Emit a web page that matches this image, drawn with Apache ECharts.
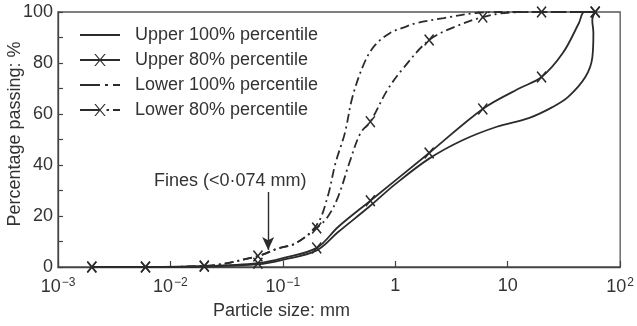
<!DOCTYPE html>
<html>
<head>
<meta charset="utf-8">
<script src="https://cdn.jsdelivr.net/npm/echarts@6/dist/echarts.min.js"></script>
<style>
  html, body { margin: 0; padding: 0; background: #fff; }
  #chart { width: 637px; height: 326px; }
</style>
</head>
<body>
<div id="chart"></div>
<script>
// Sieve sizes (mm) at which the 80% percentile envelopes are marked
const sieveSizes = [0.002, 0.006, 0.02, 0.06, 0.2, 0.6, 2, 6, 20, 60];

// Grading envelopes: [particle size in mm, percentage passing]
const upper100 = [
  [0.002, 0], [0.006, 0], [0.02, 0.2], [0.06, 1], [0.1, 2.8], [0.2, 6.5],
  [0.31, 13.7], [0.6, 24], [1, 32.5], [2, 42.5], [4, 49.8], [8, 55],
  [15.6, 58.5], [25, 62.7], [34.5, 66.7], [49, 74.5], [56.5, 82],
  [57.8, 91.8], [56.5, 96.9], [60, 100]
];
const upper80 = [
  [0.002, 0], [0.006, 0], [0.02, 0.3], [0.06, 1.5], [0.1, 3.5], [0.2, 7.5],
  [0.31, 15.7], [0.6, 26], [2, 44.7], [6, 62], [12.6, 70], [20, 74.5],
  [31, 84], [43, 95.7], [48, 100], [60, 100]
];
const lower100 = [
  [0.002, 0], [0.006, 0], [0.02, 0.4], [0.06, 4.3], [0.091, 7.3], [0.13, 9.3],
  [0.2, 16.5], [0.25, 27.5], [0.294, 40.8], [0.356, 52.5], [0.416, 66.7],
  [0.53, 80], [0.66, 87], [0.9, 91.8], [1.2, 94], [1.55, 95.7], [2.7, 97.6],
  [5.2, 99.6], [10, 100], [60, 100]
];
const lower80 = [
  [0.002, 0], [0.006, 0], [0.02, 0.4], [0.06, 4.3], [0.091, 7.3], [0.13, 9.3],
  [0.2, 15.3], [0.25, 19.6], [0.31, 27.5], [0.39, 40.8], [0.49, 52.5],
  [0.6, 57], [0.85, 69.4], [1.2, 78.4], [2, 89], [3.3, 94], [6, 98],
  [10, 99.7], [20, 100], [60, 100]
];

// Axis tick labels
const xTickExponents = [-3, -2, -1, 0, 1, 2];
const xTickTexts = ['10{s|\u22123}', '10{s|\u22122}', '10{s|\u22121}', '1', '10', '10{s|2}'];
const yTicks = [0, 20, 40, 60, 80, 100];

// Fines limit annotation
const finesSize = 0.074;
const finesArrowFrom = 29.4;
const finesArrowTo = 6.7;
const finesText = 'Fines (<0\u00b7074 mm)';

const ink = '#2b2b2b';
const textColor = '#333';
const font = 'Liberation Sans, Arial, Helvetica, sans-serif';
const crossPath = 'path://M0,1L1,0L5,4L9,0L10,1L6,5L10,9L9,10L5,6L1,10L0,9L4,5Z';
const dashDot = [9, 4, 2, 4];

// Legend keys drawn in a 40 x 14 box (tiny corner triangles fix the box extent)
const keyBox = 'M0,0L0.01,0L0,0.01Z M40,14L39.99,14L40,13.99Z';
const keyCross = 'M14.3,1L15.7,1L25.7,13L24.3,13Z M24.3,1L25.7,1L15.7,13L14.3,13Z';
const legendKeys = [
  'path://' + keyBox + ' M0,6.1H40V7.9H0Z',
  'path://' + keyBox + ' M0,6.1H40V7.9H0Z ' + keyCross,
  'path://' + keyBox + ' M0,6.1H20V7.9H0Z M25,6.1H28V7.9H25Z M33,6.1H40V7.9H33Z',
  'path://' + keyBox + ' M0,6.1H20V7.9H0Z ' + keyCross + ' M26.5,6.1H29V7.9H26.5Z M33,6.1H40V7.9H33Z'
];

function isSieve(x) {
  return sieveSizes.some(s => Math.abs(s - x) < 1e-9);
}
function marked(points) {
  return points.map(p => isSieve(p[0]) ? { value: p } : { value: p, symbol: 'none' });
}

function lineSeries(name, data, dashed, withMarks) {
  return {
    name: name,
    type: 'line',
    data: withMarks ? marked(data) : data,
    smooth: 0.35,
    clip: false,
    symbol: withMarks ? crossPath : 'none',
    symbolSize: [10, 12],
    showSymbol: withMarks,
    color: ink,
    itemStyle: { color: ink },
    lineStyle: { color: ink, width: 1.8, type: dashed ? dashDot : 'solid' },
    emphasis: { disabled: true },
    animation: false
  };
}

const series = [
  lineSeries('Upper 100% percentile', upper100, false, false),
  lineSeries('Upper 80% percentile', upper80, false, true),
  lineSeries('Lower 100% percentile', lower100, true, false),
  lineSeries('Lower 80% percentile', lower80, true, true)
];

series[0].markLine = {
  silent: true,
  animation: false,
  symbol: ['none', 'arrow'],
  symbolSize: [9, 13],
  lineStyle: { color: ink, width: 1.4, type: 'solid' },
  label: {
    show: true,
    position: 'start',
    distance: 2,
    padding: [0, 76, 0, 0],
    formatter: finesText,
    color: textColor,
    fontSize: 18,
    fontFamily: font
  },
  data: [[{ coord: [finesSize, finesArrowFrom] }, { coord: [finesSize, finesArrowTo] }]]
};

const chart = echarts.init(document.getElementById('chart'), null, { renderer: 'canvas' });
chart.setOption({
  backgroundColor: '#fff',
  animation: false,
  grid: {
    left: 58, right: 12, top: 12, bottom: 59,
    show: true, borderColor: '#555', borderWidth: 1.3, backgroundColor: 'transparent'
  },
  legend: {
    orient: 'vertical',
    left: 80,
    top: 25,
    padding: 0,
    itemWidth: 40,
    itemHeight: 14,
    itemGap: 5,
    selectedMode: false,
    itemStyle: { borderWidth: 0 },
    textStyle: { color: textColor, fontSize: 18, fontFamily: font, lineHeight: 20, padding: [0, 0, 0, 10] },
    data: series.map((s, i) => ({ name: s.name, icon: legendKeys[i] }))
  },
  xAxis: {
    type: 'log',
    logBase: 10,
    min: 0.001,
    max: 100,
    axisLine: { lineStyle: { color: '#444', width: 1.3 } },
    axisTick: { show: true, inside: true, length: 6, lineStyle: { color: '#444', width: 1.2 } },
    splitLine: { show: false },
    axisLabel: {
      margin: 10,
      color: textColor,
      fontSize: 18,
      fontFamily: font,
      formatter: function (v) {
        const e = Math.round(Math.log10(v));
        const i = xTickExponents.indexOf(e);
        return i >= 0 ? xTickTexts[i] : '';
      },
      rich: {
        s: { fontSize: 12, fontFamily: font, color: textColor, verticalAlign: 'top', padding: [0, 0, 8, 1] }
      }
    }
  },
  yAxis: {
    type: 'value',
    min: yTicks[0],
    max: yTicks[yTicks.length - 1],
    interval: 10,
    axisLine: { show: true, lineStyle: { color: '#444', width: 1.3 } },
    axisTick: { show: true, inside: true, length: 5, lineStyle: { color: '#444', width: 1.2 } },
    splitLine: { show: false },
    axisLabel: {
      margin: 5, color: textColor, fontSize: 18, fontFamily: font,
      formatter: v => (yTicks.indexOf(v) >= 0 ? String(v) : '')
    }
  },
  graphic: [
    {
      type: 'text',
      left: 213, top: 302,
      style: { text: 'Particle size: mm', fill: textColor, fontSize: 18, fontFamily: font }
    },
    {
      type: 'text',
      x: 6, y: 134,
      rotation: Math.PI / 2,
      style: {
        text: 'Percentage passing: %', fill: textColor, fontSize: 18, fontFamily: font,
        align: 'center', verticalAlign: 'top'
      }
    }
  ],
  series: series
});
</script>
</body>
</html>
